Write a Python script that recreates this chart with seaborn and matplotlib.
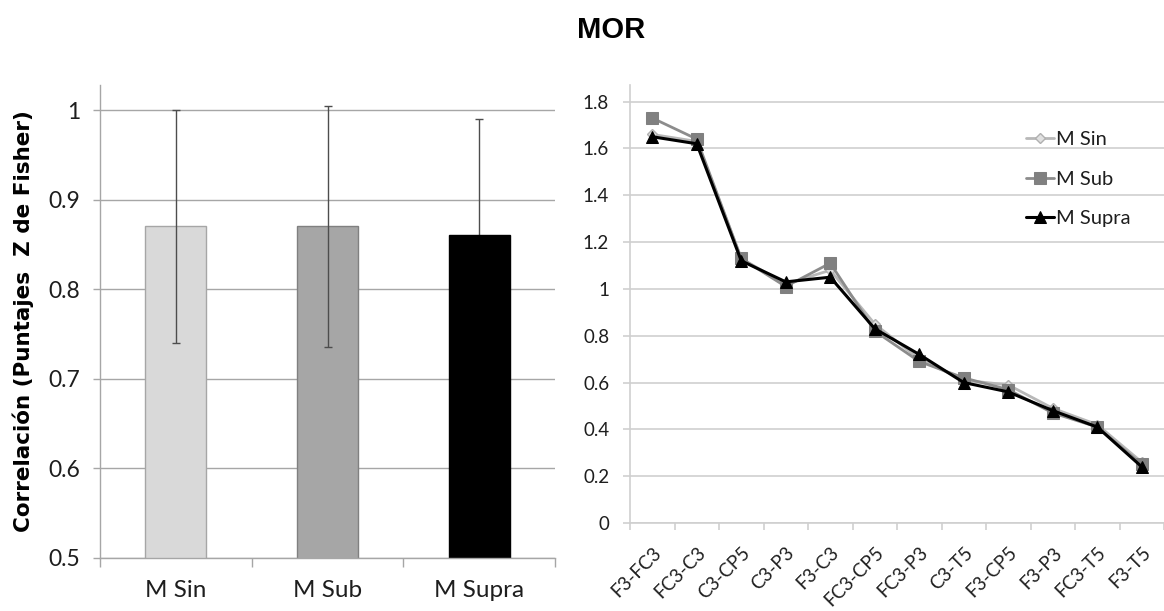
import numpy as np
import matplotlib
matplotlib.use("Agg")
import matplotlib.pyplot as plt
from matplotlib.ticker import FixedLocator, FuncFormatter
import seaborn as sns

# ---------------- data ----------------
groups = ["M Sin", "M Sub", "M Supra"]
bar_means = [0.87, 0.87, 0.86]
bar_err = [0.13, 0.135, 0.13]

pairs = ["F3-FC3", "FC3-C3", "C3-CP5", "C3-P3", "F3-C3", "FC3-CP5",
         "FC3-P3", "C3-T5", "F3-CP5", "F3-P3", "FC3-T5", "F3-T5"]
m_sin = [1.66, 1.63, 1.13, 1.02, 1.08, 0.85, 0.70, 0.61, 0.59, 0.49, 0.42, 0.26]
m_sub = [1.73, 1.64, 1.13, 1.01, 1.11, 0.82, 0.69, 0.62, 0.57, 0.47, 0.41, 0.25]
m_supra = [1.65, 1.62, 1.12, 1.03, 1.05, 0.83, 0.72, 0.60, 0.56, 0.48, 0.41, 0.24]

title = "MOR"
ylabel_left = "Correlación (Puntajes  Z de Fisher)"
left_yticks = [0.5, 0.6, 0.7, 0.8, 0.9, 1.0]
right_yticks = [0, 0.2, 0.4, 0.6, 0.8, 1.0, 1.2, 1.4, 1.6, 1.8]

# ---------------- style ----------------
sns.set_theme(style="white")
plt.rcParams["font.family"] = ["Lato", "DejaVu Sans"]

bar_colors = ["#d9d9d9", "#a6a6a6", "#000000"]
bar_edges = ["#a6a6a6", "#808080", "#000000"]
grid_left = "#a6a6a6"
grid_right = "#cfcfcf"
txt = "#1e1e1e"

W, H = 1164, 611
fig = plt.figure(figsize=(W / 100, H / 100), dpi=100)

def fx(px):
    return px / W

def fy(py):
    return 1 - py / H

# ---------------- left: bar chart ----------------
ax1 = fig.add_axes([fx(100), fy(557.7), fx(455), (557.7 - 85) / H])
sns.barplot(x=groups, y=bar_means, hue=groups, palette=bar_colors,
            width=0.4, legend=False, ax=ax1, linewidth=1, saturation=1)
for p, ec in zip(ax1.patches, bar_edges):
    p.set_edgecolor(ec)
    p.set_zorder(2)
for i, (m, e, c) in enumerate(zip(bar_means, bar_err, bar_colors)):
    z = 1.5 if c == "#000000" else 3
    ax1.errorbar([i], [m], yerr=[e], fmt="none", ecolor="#4d4d4d",
                 elinewidth=1, capsize=3, capthick=1, zorder=z)

ax1.set_ylim(0.5, 1.028)
ax1.set_xlim(-0.5, len(groups) - 0.5)
ax1.yaxis.set_major_locator(FixedLocator(left_yticks))
ax1.yaxis.set_major_formatter(FuncFormatter(lambda v, _: f"{v:g}"))
ax1.yaxis.grid(True, color=grid_left, lw=1)
ax1.xaxis.grid(False)
ax1.set_axisbelow(True)
for s in ["top", "right"]:
    ax1.spines[s].set_visible(False)
for s in ["left", "bottom"]:
    ax1.spines[s].set_color(grid_left)
    ax1.spines[s].set_linewidth(1)
ax1.tick_params(axis="y", which="major", left=True, length=5, width=1,
                color=grid_left, pad=9, labelsize=16.5, labelcolor=txt)
ax1.set_xticks(np.arange(len(groups)))
ax1.set_xticklabels(groups)
ax1.tick_params(axis="x", which="major", length=0, pad=16, labelsize=17.5,
                labelcolor=txt)
ax1.xaxis.set_minor_locator(FixedLocator(np.arange(len(groups) + 1) - 0.5))
ax1.tick_params(axis="x", which="minor", bottom=True, length=6.5, width=1,
                color=grid_left)
ax1.set_xlabel("")
ax1.set_ylabel(ylabel_left, fontsize=15.5, fontweight="bold",
               family=["DejaVu Sans"], color="black")
ax1.yaxis.set_label_coords(-0.145, 0.5)

# ---------------- right: line chart ----------------
ax2 = fig.add_axes([fx(630), fy(523), fx(534), (523 - 85) / H])
x = np.arange(len(pairs))
sns.lineplot(x=x, y=m_sin, ax=ax2, color="#b8b8b8", linewidth=2,
             marker="D", markersize=5.5, markerfacecolor="#e0e0e0",
             markeredgecolor="#b0b0b0", markeredgewidth=1, label="M Sin",
             zorder=3)
sns.lineplot(x=x, y=m_sub, ax=ax2, color="#8c8c8c", linewidth=2,
             marker="s", markersize=8, markerfacecolor="#808080",
             markeredgecolor="#808080", label="M Sub", zorder=4)
sns.lineplot(x=x, y=m_supra, ax=ax2, color="#000000", linewidth=2.2,
             marker="^", markersize=8, markerfacecolor="#000000",
             markeredgecolor="#000000", label="M Supra", zorder=5)

ax2.set_xlim(-0.5, len(pairs) - 0.5)
ax2.set_ylim(0, 1.871)
ax2.yaxis.set_major_locator(FixedLocator(right_yticks))
ax2.yaxis.set_major_formatter(FuncFormatter(lambda v, _: f"{v:g}"))
ax2.yaxis.grid(True, color=grid_right, lw=1.2)
ax2.xaxis.grid(False)
ax2.set_axisbelow(True)
for s in ["top", "right"]:
    ax2.spines[s].set_visible(False)
for s in ["left", "bottom"]:
    ax2.spines[s].set_color(grid_right)
    ax2.spines[s].set_linewidth(1.2)
ax2.tick_params(axis="y", which="major", left=True, length=5, width=1.2,
                color=grid_right, pad=10, labelsize=13.5, labelcolor=txt)
ax2.set_xticks(x)
ax2.set_xticklabels(pairs, rotation=45, ha="right", rotation_mode="anchor")
ax2.tick_params(axis="x", which="major", length=0, pad=15, labelsize=13.5,
                labelcolor=txt)
ax2.xaxis.set_minor_locator(FixedLocator(np.arange(len(pairs) + 1) - 0.5))
ax2.tick_params(axis="x", which="minor", bottom=True, length=5, width=1.2,
                color=grid_right)

leg = ax2.legend(loc="upper left", bbox_to_anchor=(fx(1026), fy(131)),
                 bbox_transform=fig.transFigure, frameon=False, fontsize=14.5,
                 handlelength=1.4, handletextpad=0.1, labelspacing=1.12,
                 borderpad=0, borderaxespad=0)
for t in leg.get_texts():
    t.set_color(txt)

fig.text(fx(611), fy(30), title, ha="center", va="center", fontsize=21,
         fontweight="bold", family=["Liberation Sans Narrow", "Liberation Sans"],
         color="black")

fig.savefig("out.png", dpi=100)
